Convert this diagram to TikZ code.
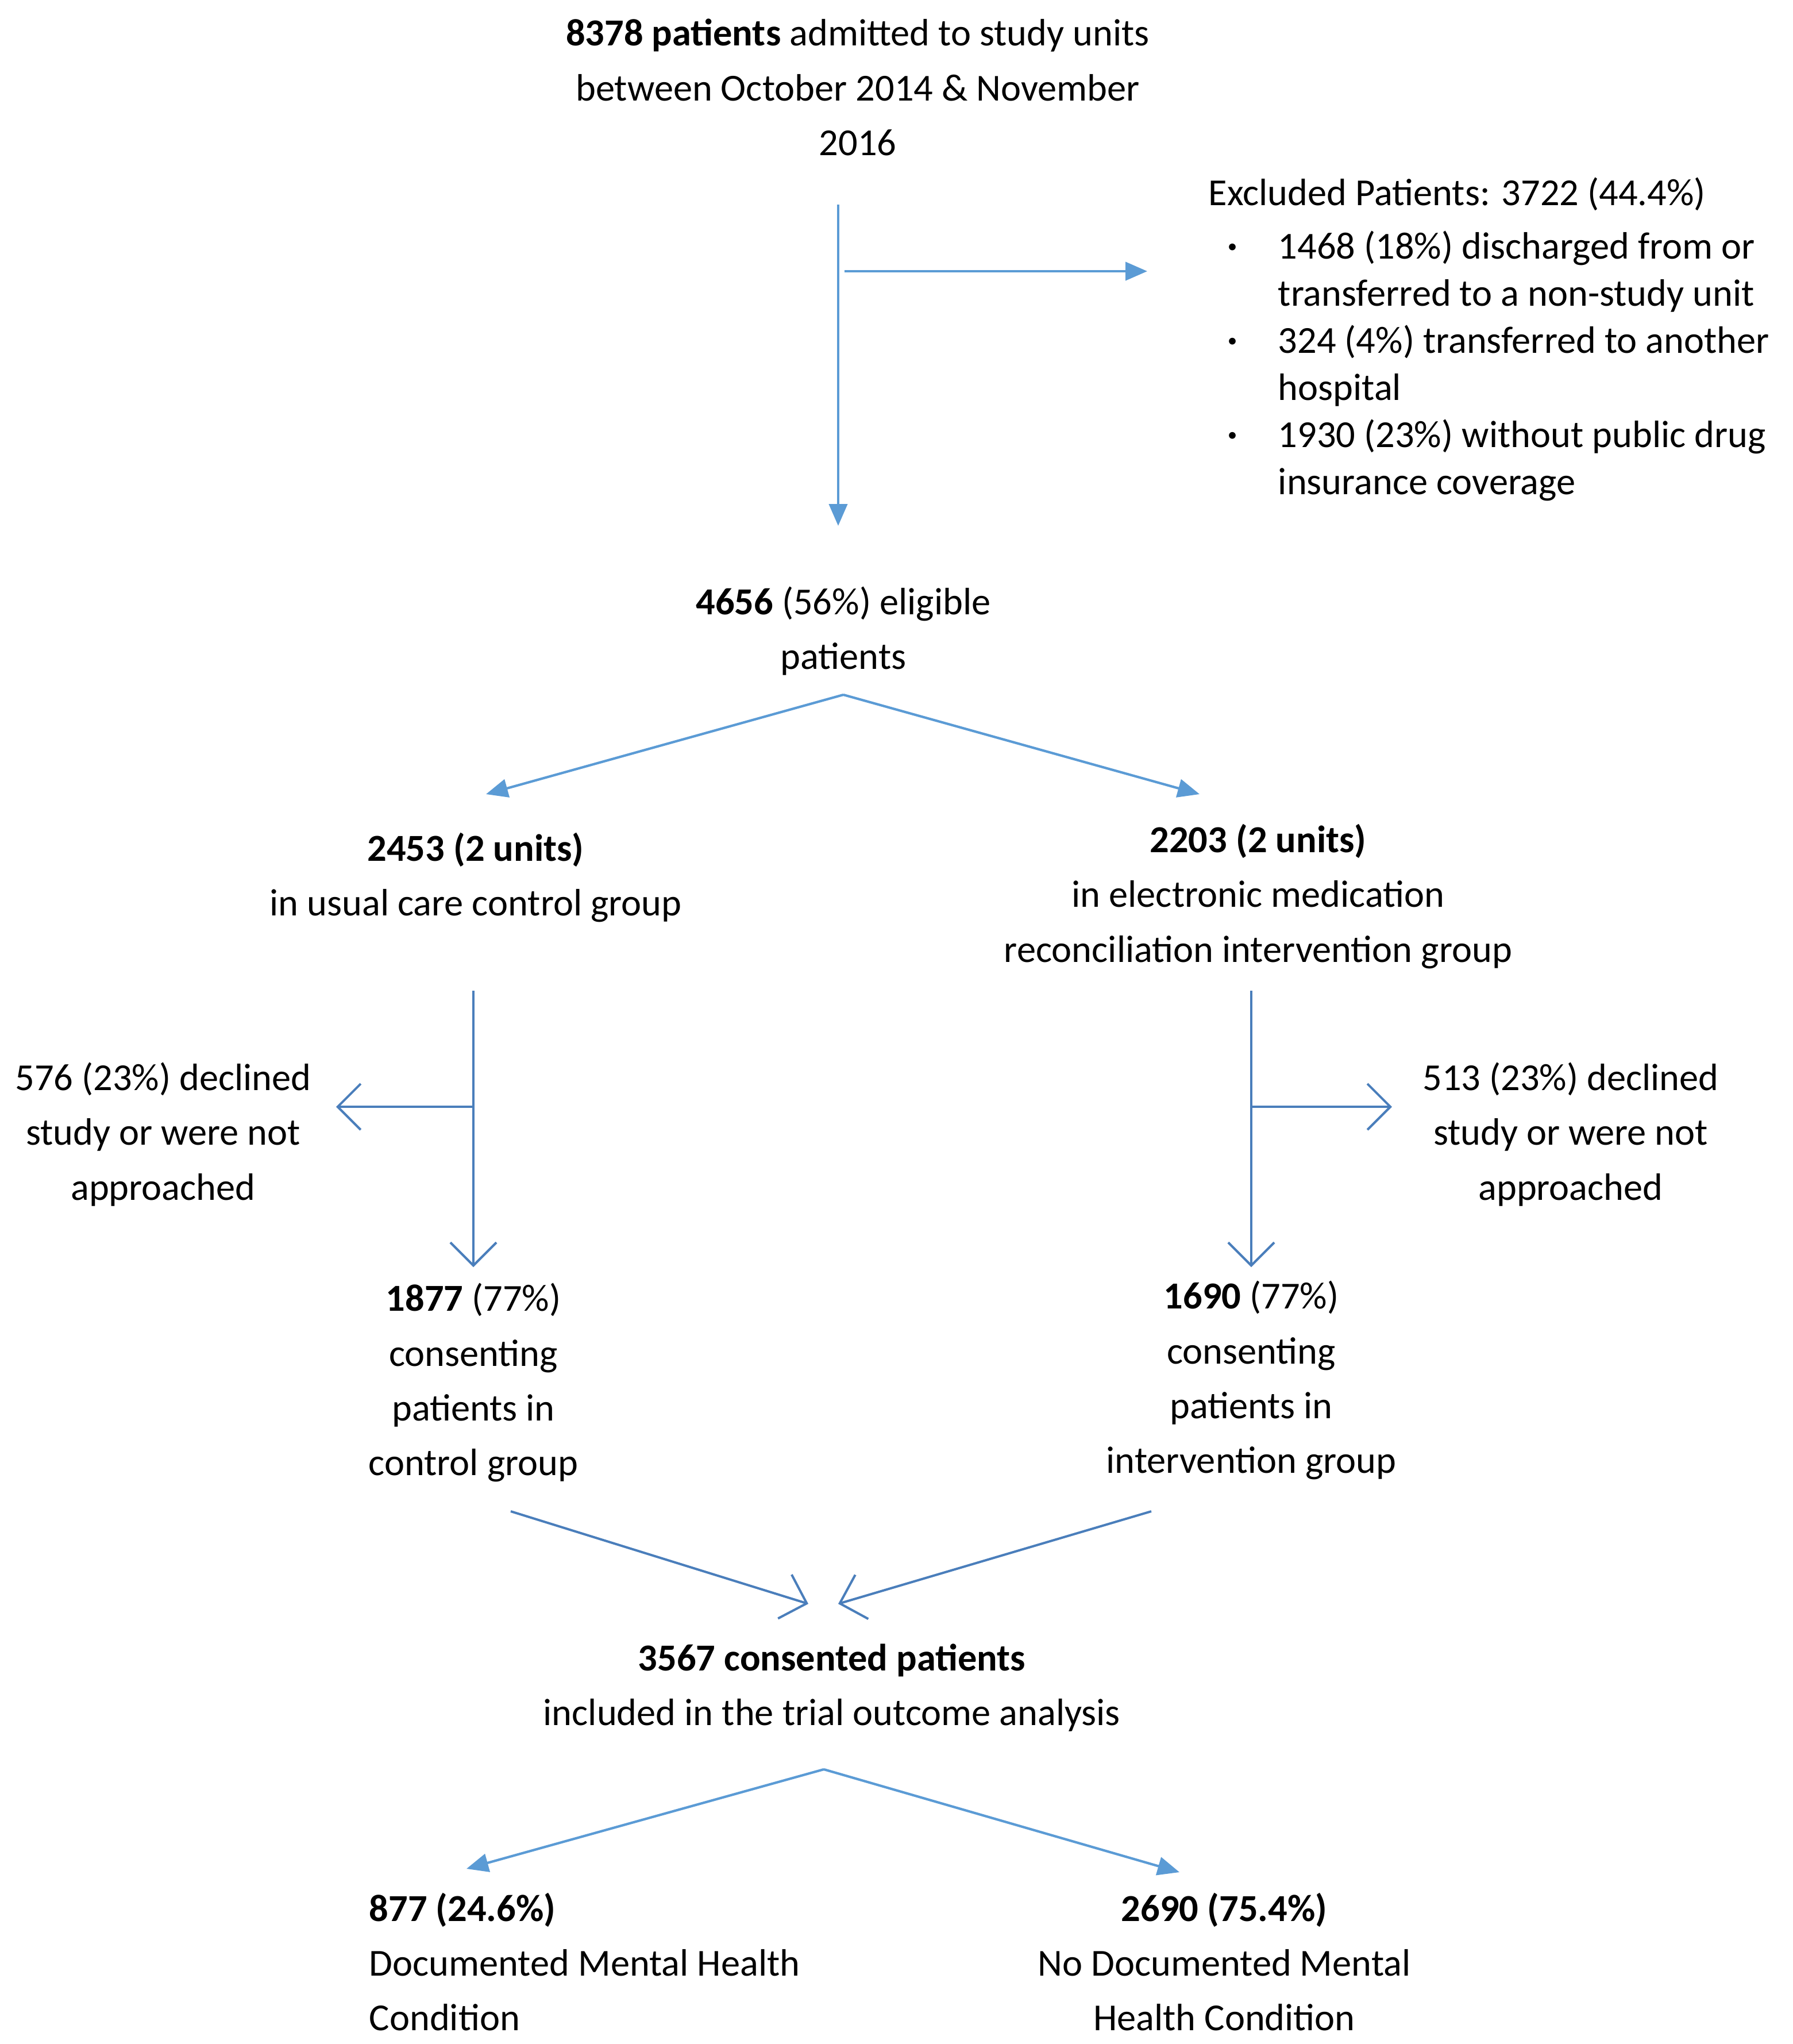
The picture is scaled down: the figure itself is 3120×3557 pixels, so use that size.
\documentclass[tikz,border=0pt]{standalone}
\usepackage{fontspec}
\usepackage{graphicx}
\setmainfont{Carlito}
\usetikzlibrary{arrows.meta}
\definecolor{lblue}{HTML}{5B9BD5}
\definecolor{dblue}{HTML}{4A7EBB}
\newcommand{\smallbul}{\raisebox{0.17em}{\scalebox{0.5}{\textbullet}}}
\begin{document}
\begin{tikzpicture}[x=0.25pt,y=-0.25pt,
  txt/.style={font=\fontsize{16.6}{23.8}\selectfont, align=center, inner sep=0pt},
  lconn/.style={draw=lblue, line width=1.05pt, -{Triangle[length=9.5pt,width=8pt]}},
  dconn/.style={draw=dblue, line width=1pt, -{Straight Barb[length=10pt,width=20pt]}}]
\useasboundingbox[fill=white] (0,0) rectangle (3120,3557);

% texts
\node[txt] (admit) at (1493,152) {\textbf{8378 patients} admitted to study units\\between October 2014 \& November\\2016};
\node[txt, anchor=west] (exhead) at (2103,338) {Excluded Patients: 3722 (44.4\%)};
\node[txt, anchor=west, font=\fontsize{16.6}{20.5}\selectfont] (exlist) at (2136,639)
  {\begin{tabular}{@{}p{22pt}@{}l@{}}
   \smallbul & 1468 (18\%) discharged from or\\
   & transferred to a non-study unit\\
   \smallbul & 324 (4\%) transferred to another\\
   & hospital\\
   \smallbul & 1930 (23\%) without public drug\\
   & insurance coverage
   \end{tabular}};
\node[txt] (elig) at (1468,1098) {\textbf{4656} (56\%) eligible\\patients};
\node[txt] (ctrl) at (828,1527) {\textbf{2453 (2 units)}\\in usual care control group};
\node[txt] (intv) at (2190,1560) {\textbf{2203 (2 units)}\\in electronic medication\\reconciliation intervention group};
\node[txt] (decl) at (284,1974) {576 (23\%) declined\\study or were not\\approached};
\node[txt] (decr) at (2734,1974) {513 (23\%) declined\\study or were not\\approached};
\node[txt] (consl) at (824,2406) {\textbf{1877} (77\%)\\consenting\\patients in\\control group};
\node[txt] (consr) at (2178,2402) {\textbf{1690} (77\%)\\consenting\\patients in\\intervention group};
\node[txt] (cons) at (1448,2937) {\textbf{3567 consented patients}\\included in the trial outcome analysis};
\node[txt, align=left, anchor=west] (mhl) at (642,3414) {\textbf{877 (24.6\%)}\\Documented Mental Health\\Condition};
\node[txt] (mhr) at (2131,3414) {\textbf{2690 (75.4\%)}\\No Documented Mental\\Health Condition};

% connector end points
\coordinate (a1) at (1459,356);
\coordinate (a2) at (1459,915);
\coordinate (b1) at (1470,472);
\coordinate (b2) at (1997,472);
\coordinate (s1) at (1468,1209);
\coordinate (s1l) at (846,1382);
\coordinate (s1r) at (2088,1382);
\coordinate (cl1) at (824,1724);
\coordinate (cl2) at (824,2205);
\coordinate (clm) at (824,1926);
\coordinate (cl3) at (585,1926);
\coordinate (cr1) at (2178,1724);
\coordinate (cr2) at (2178,2205);
\coordinate (crm) at (2178,1926);
\coordinate (cr3) at (2423,1926);
\coordinate (m1) at (889,2630);
\coordinate (m1e) at (1407,2791);
\coordinate (m2) at (2004,2630);
\coordinate (m2e) at (1459,2791);
\coordinate (s2) at (1434,3079);
\coordinate (s2l) at (812,3252);
\coordinate (s2r) at (2053,3258);

% connectors
\draw[lconn] (a1) -- (a2);
\draw[lconn] (b1) -- (b2);
\draw[lconn] (s1) -- (s1l);
\draw[lconn] (s1) -- (s1r);
\draw[dconn] (cl1) -- (cl2);
\draw[dconn] (clm) -- (cl3);
\draw[dconn] (cr1) -- (cr2);
\draw[dconn] (crm) -- (cr3);
\draw[dconn] (m1) -- (m1e);
\draw[dconn] (m2) -- (m2e);
\draw[lconn] (s2) -- (s2l);
\draw[lconn] (s2) -- (s2r);
\end{tikzpicture}
\end{document}
